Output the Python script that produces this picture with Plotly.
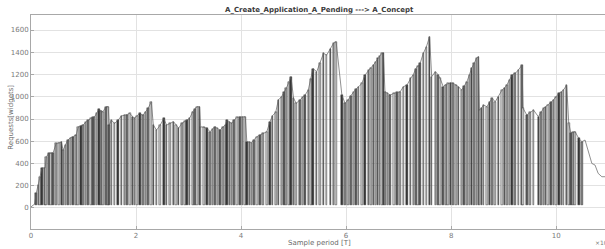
import plotly.graph_objects as go

# Upper envelope of the request signal (x in units of 1e4 samples)
sample_x = [0.00, 0.07, 0.10, 0.14, 0.17, 0.21, 0.27, 0.29, 0.34, 0.38, 0.42, 0.48, 0.53, 0.58, 0.61, 0.66,
            0.70, 0.75, 0.80, 0.86, 0.90, 0.95, 0.99, 1.04, 1.09, 1.14, 1.18, 1.21, 1.25, 1.29, 1.33, 1.37,
            1.43, 1.47, 1.49, 1.53, 1.59, 1.66, 1.72, 1.78, 1.83, 1.88, 1.93, 1.97, 2.02, 2.07, 2.13, 2.18,
            2.23, 2.29, 2.33, 2.39, 2.46, 2.53, 2.58, 2.65, 2.71, 2.76, 2.81, 2.87, 2.93, 2.97, 3.02, 3.08,
            3.12, 3.16, 3.21, 3.23, 3.29, 3.35, 3.41, 3.46, 3.50, 3.55, 3.60, 3.66, 3.70, 3.73, 3.78, 3.82,
            3.87, 3.92, 3.98, 4.03, 4.08, 4.11, 4.16, 4.20, 4.25, 4.30, 4.36, 4.42, 4.49, 4.55, 4.60, 4.66,
            4.71, 4.77, 4.82, 4.86, 4.91, 4.95, 5.00, 5.05, 5.12, 5.17, 5.22, 5.28, 5.33, 5.37, 5.44, 5.50,
            5.57, 5.63, 5.70, 5.76, 5.81, 5.92, 5.98, 6.04, 6.09, 6.14, 6.19, 6.24, 6.30, 6.36, 6.43, 6.47,
            6.52, 6.56, 6.60, 6.64, 6.68, 6.71, 6.74, 6.79, 6.84, 6.91, 6.97, 7.03, 7.09, 7.16, 7.23, 7.28,
            7.33, 7.37, 7.41, 7.47, 7.53, 7.59, 7.63, 7.70, 7.75, 7.79, 7.85, 7.90, 7.94, 7.99, 8.04, 8.09,
            8.14, 8.20, 8.25, 8.30, 8.35, 8.39, 8.44, 8.48, 8.52, 8.54, 8.58, 8.62, 8.68, 8.73, 8.78, 8.84,
            8.90, 8.97, 9.02, 9.06, 9.11, 9.16, 9.22, 9.28, 9.35, 9.37, 9.44, 9.50, 9.57, 9.66, 9.71, 9.76,
            9.80, 9.85, 9.90, 9.95, 10.00, 10.05, 10.10, 10.14, 10.20, 10.24, 10.28, 10.32, 10.36, 10.43,
            10.49, 10.55, 10.58, 10.63, 10.68, 10.74, 10.80, 10.87, 10.93]
requests = [10, 36, 133, 210, 280, 360, 360, 460, 490, 492, 495, 580, 585, 592, 520, 570,
            610, 630, 640, 655, 730, 740, 745, 770, 790, 805, 815, 820, 850, 887, 875, 866,
            910, 912, 745, 790, 760, 790, 827, 833, 840, 850, 820, 806, 830, 850, 833, 860,
            896, 955, 745, 700, 745, 806, 745, 760, 776, 750, 716, 760, 782, 790, 806, 866,
            890, 911, 911, 730, 725, 716, 686, 710, 730, 715, 700, 730, 745, 790, 775, 760,
            790, 815, 818, 820, 820, 596, 590, 587, 615, 641, 655, 670, 686, 776, 830, 860,
            971, 1000, 1040, 1075, 1130, 1180, 986, 941, 971, 995, 1016, 1061, 1160, 1254, 1225, 1300,
            1390, 1375, 1426, 1480, 1495, 1016, 941, 971, 1010, 1045, 1070, 1090, 1120, 1195, 1240, 1260,
            1285, 1310, 1345, 1370, 1390, 1390, 1045, 1030, 1016, 1030, 1040, 1045, 1090, 1105, 1165, 1200,
            1254, 1280, 1300, 1390, 1450, 1540, 1180, 1225, 1200, 1166, 1090, 1110, 1120, 1125, 1120, 1105,
            1090, 1060, 1100, 1135, 1200, 1256, 1300, 1345, 1360, 880, 900, 926, 910, 950, 986, 955,
            1000, 1061, 1080, 1105, 1150, 1195, 1210, 1240, 1285, 896, 836, 860, 880, 821, 860, 896,
            910, 926, 950, 971, 1000, 1030, 1045, 1061, 1105, 761, 671, 680, 686, 626,
            596, 611, 566, 480, 400, 386, 311, 281, 281]
baseline = 30          # level the signal drops back to between bursts
burst_end = 10.50      # bursts stop here; only the trailing line continues

x_ticks = [0, 2, 4, 6, 8, 10]
y_ticks = [0, 200, 400, 600, 800, 1000, 1200, 1400, 1600]

grays = ['#5a5a5a', '#a0a0a0', '#c8c8c8', '#3a3a3a', '#858585', '#b8b8b8', '#6c6c6c', '#d2d2d2']

bx, by = [], []
for xv, yv in zip(sample_x, requests):
    if 0.09 <= xv <= burst_end:
        bx.append(xv)
        by.append(yv - baseline)
bar_colors = [grays[i % len(grays)] for i in range(len(bx))]

fig = go.Figure()
fig.add_trace(go.Bar(x=bx, y=by, base=baseline, width=0.03,
                     marker=dict(color=bar_colors, line=dict(color='#1a1a1a', width=0.4)),
                     showlegend=False, hoverinfo='skip'))
fig.add_trace(go.Scatter(x=sample_x, y=requests, mode='lines',
                         line=dict(color='#606060', width=0.7), showlegend=False))

axis_font = dict(family='DejaVu Sans', size=7, color='#7a7a7a')
fig.update_xaxes(range=[0, 10.93], tickvals=x_ticks, ticktext=[str(v) for v in x_ticks],
                 showgrid=True, gridcolor='#e2e2e2', gridwidth=1, zeroline=False,
                 showline=True, linecolor='#a8a8a8', linewidth=1, mirror=True, automargin=False,
                 ticks='inside', ticklen=3, tickcolor='#a8a8a8', tickfont=axis_font)
fig.update_yaxes(range=[-189, 1735], tickvals=y_ticks, ticktext=[str(v) for v in y_ticks],
                 showgrid=True, gridcolor='#e2e2e2', gridwidth=1, zeroline=False,
                 showline=True, linecolor='#a8a8a8', linewidth=1, mirror=True, automargin=False,
                 ticks='inside', ticklen=3, tickcolor='#a8a8a8', tickfont=axis_font)

fig.update_layout(
    width=605, height=249,
    margin=dict(l=31, r=0, t=15, b=20, autoexpand=False),
    paper_bgcolor='white', plot_bgcolor='white',
    bargap=0,
    annotations=[
        dict(text='<b>A_Create_Application_A_Pending ---> A_Concept</b>', xref='paper', yref='paper',
             x=0.503, y=1, xanchor='center', yanchor='bottom', yshift=-1, showarrow=False,
             font=dict(family='DejaVu Sans', size=7, color='#3a3a3a')),
        dict(text='Requests[widgets]', xref='paper', yref='paper', x=0, y=0.52, xshift=-20,
             textangle=-90, showarrow=False, xanchor='center', yanchor='middle',
             font=dict(family='DejaVu Sans', size=7, color='#6a6a6a')),
        dict(text='Sample period [T]', xref='paper', yref='paper', x=0.503, y=0, yshift=-14,
             xanchor='center', yanchor='middle', showarrow=False,
             font=dict(family='DejaVu Sans', size=7, color='#6a6a6a')),
        dict(text='\u00d710<sup>4</sup>', xref='paper', yref='paper', x=1, y=0, xshift=-12, yshift=-13,
             xanchor='left', yanchor='middle', showarrow=False,
             font=dict(family='DejaVu Sans', size=6, color='#7a7a7a')),
    ],
)

fig.write_html('out.html', config={'displayModeBar': False},
               post_script="document.body.style.margin='0';")
